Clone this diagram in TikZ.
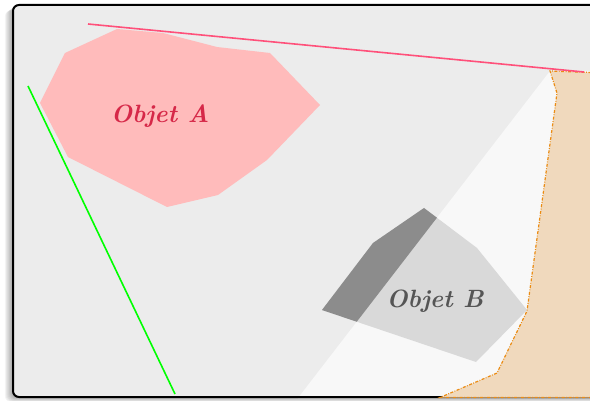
\documentclass[tikz,border=0pt]{standalone}
\definecolor{bgc}{RGB}{236,236,236}
\definecolor{wedgec}{RGB}{248,248,248}
\definecolor{pinkfill}{RGB}{255,187,187}
\definecolor{crimsontxt}{RGB}{214,40,72}
\definecolor{lightB}{RGB}{217,217,217}
\definecolor{darkB}{RGB}{140,140,140}
\definecolor{txtB}{RGB}{85,85,85}
\definecolor{beige}{RGB}{240,217,189}
\definecolor{orangeline}{RGB}{235,140,20}
\definecolor{pinkline}{RGB}{255,80,122}
\definecolor{greenline}{RGB}{0,255,0}
\tikzset{
  objlabel/.style={font=\fontsize{25}{29}\selectfont\bfseries\itshape, inner sep=0pt},
  frameshape/.style={rounded corners=6pt},
  borderline/.style={line width=1.2pt, orangeline, dash pattern=on 3pt off 1.5pt on 0.8pt off 1.5pt},
}
\begin{document}
\begin{tikzpicture}[x=1pt,y=-1pt]
\useasboundingbox (0,0) rectangle (590,401);
\clip (0,0) rectangle (590,401);
% shadow
\foreach \i in {1,...,9} {
  \fill[black,opacity=0.045,frameshape] ({13-\i*0.9},{5+\i*0.6}) rectangle ({605-\i*0.9},{397+\i*0.55});
}
% frame background
\fill[bgc,frameshape] (13,5) rectangle (605,397);
% light wedge
\fill[wedgec] (550,71) -- (298,398) -- (605,398) -- (605,71) -- cycle;
% Objet A
\fill[pinkfill] (65,53) -- (117,29) -- (163,33) -- (217,47) -- (270,53) -- (320,105) -- (267,160) -- (218,195) -- (167,207) -- (68,157) -- (40,103) -- cycle;
\node[objlabel, text=crimsontxt] (objA) at (160,116) {Objet A};
% Objet B
\fill[lightB] (322,310) -- (373,243) -- (424,208) -- (477,248) -- (527,310) -- (476,362) -- cycle;
\begin{scope}
  \clip (550,71) -- (298,398) -- (0,398) -- (0,0) -- (550,0) -- cycle;
  \fill[darkB] (322,310) -- (373,243) -- (424,208) -- (477,248) -- (527,310) -- (476,362) -- cycle;
\end{scope}
\node[objlabel, text=txtB] (objB) at (435,301) {Objet B};
% frame border
\draw[line width=2pt,black,frameshape] (13,5) rectangle (605,397);
% beige region
\fill[beige] (550,71) -- (557,93) -- (527,311) -- (497,373) -- (440,397.5) -- (605,397.5) -- (605,73) -- cycle;
\draw[borderline] (605,73) -- (550,71) -- (557,93) -- (527,311) -- (497,373) -- (440,397.5) -- (605,397.5);
% lines
\coordinate (p1) at (88,24);
\coordinate (p2) at (584,72);
\draw[pinkline,line width=1.6pt] (p1) -- (p2);
\coordinate (g1) at (28,86);
\coordinate (g2) at (175,394);
\draw[greenline,line width=1.6pt] (g1) -- (g2);
\end{tikzpicture}
\end{document}
